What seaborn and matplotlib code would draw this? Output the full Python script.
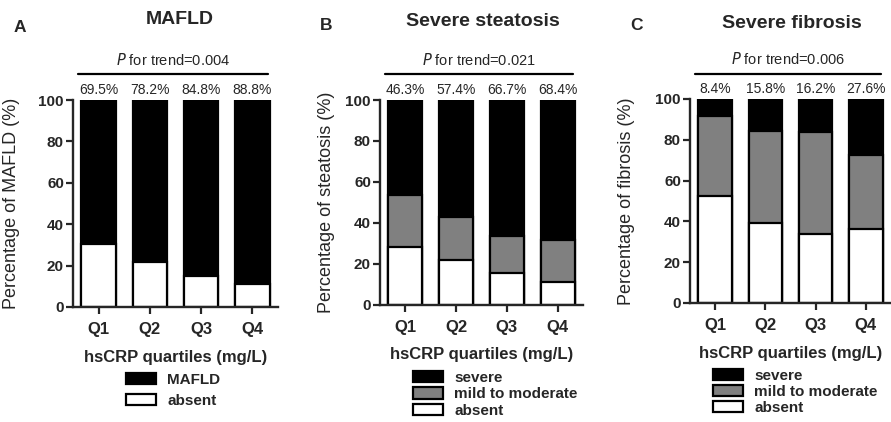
import numpy as np
import pandas as pd
import seaborn as sns
import matplotlib
matplotlib.use("Agg")
import matplotlib.pyplot as plt
from matplotlib.patches import Patch

# ---------------- data ----------------
quartiles = ["Q1", "Q2", "Q3", "Q4"]

mafld_pct = [69.5, 78.2, 84.8, 88.8]
mafld_absent = [30.5, 21.8, 15.2, 11.2]

steat_severe = [46.3, 57.4, 66.7, 68.4]
steat_mild = [25.5, 20.8, 18.1, 20.4]
steat_absent = [28.2, 21.8, 15.2, 11.2]

fib_severe = [8.4, 15.8, 16.2, 27.6]
fib_mild = [39.3, 44.9, 49.8, 35.9]
fib_absent = [52.3, 39.3, 34.0, 36.5]

titles = ["MAFLD", "Severe steatosis", "Severe fibrosis"]
letters = ["A", "B", "C"]
ylabels = ["Percentage of MAFLD (%)", "Percentage of steatosis (%)",
           "Percentage of fibrosis (%)"]
p_trend = ["0.004", "0.021", "0.006"]
xlabel = "hsCRP quartiles (mg/L)"
yticks = [0, 20, 40, 60, 80, 100]

BLACK = "#000000"
GRAY = "#808080"
WHITE = "#ffffff"

sns.set_style("ticks")
plt.rcParams["font.family"] = ["Liberation Sans", "DejaVu Sans"]

W, H = 891, 422
fig = plt.figure(figsize=(W / 100, H / 100), dpi=100)


def px_axes(l, r, b, t):
    return fig.add_axes([l / W, 1 - b / H, (r - l) / W, (b - t) / H])


ax_pos = [(73, 278, 307, 100), (380, 583, 304.5, 100), (690, 891, 303, 99)]
ylabel_x = [-0.2585, -0.2217, -0.2736]
title_pos = [(180, 20), (483, 22), (792, 23)]
letter_pos = [(14, 27), (320, 25), (630, 25)]
legend_pos = [(126, 373), (413, 371), (713, 369)]
legend_spacing = [0.45, 0.15, 0.12]

panels = [
    [(np.add(mafld_absent, mafld_pct), BLACK, "MAFLD"),
     (np.array(mafld_absent), WHITE, "absent")],
    [(np.add(np.add(steat_absent, steat_mild), steat_severe), BLACK, "severe"),
     (np.add(steat_absent, steat_mild), GRAY, "mild to moderate"),
     (np.array(steat_absent), WHITE, "absent")],
    [(np.add(np.add(fib_absent, fib_mild), fib_severe), BLACK, "severe"),
     (np.add(fib_absent, fib_mild), GRAY, "mild to moderate"),
     (np.array(fib_absent), WHITE, "absent")],
]
top_pcts = [mafld_pct, steat_severe, fib_severe]

for i in range(3):
    ax = px_axes(*ax_pos[i])
    for heights, col, lab in panels[i]:
        sns.barplot(x=quartiles, y=heights, color=col, saturation=1,
                    edgecolor="black", linewidth=1.6, width=0.67,
                    errorbar=None, ax=ax)
    ax.set_xlim(-0.5, 3.5)
    ax.set_ylim(0, 100)
    ax.set_yticks(yticks)
    sns.despine(ax=ax)
    for s in ["left", "bottom"]:
        ax.spines[s].set_linewidth(1.7)
    ax.tick_params(axis="both", width=1.6, length=5, direction="out")
    ax.tick_params(axis="y", labelsize=11, pad=1.5)
    ax.tick_params(axis="x", labelsize=12, pad=6)
    for t in ax.get_xticklabels() + ax.get_yticklabels():
        t.set_fontweight("bold")
    ax.set_ylabel(ylabels[i], fontsize=13)
    ax.yaxis.set_label_coords(ylabel_x[i], 0.5)
    ax.set_xlabel(xlabel, fontsize=12, fontweight="bold", labelpad=9)

    # percentages above bars
    for j, v in enumerate(top_pcts[i]):
        ax.text(j, 101.5, f"{v}%", ha="center", va="bottom", fontsize=10,
                clip_on=False)
    # trend line & text
    ax.plot([-0.4, 3.3], [112.5, 112.5], color="black", lw=1.6,
            clip_on=False)
    ax.text(1.45, 115.5, r"$\it{P}$ for trend=" + p_trend[i], ha="center",
            va="bottom", fontsize=10.5, clip_on=False)

    fig.text(title_pos[i][0] / W, 1 - title_pos[i][1] / H, titles[i],
             ha="center", va="center", fontsize=14, fontweight="bold")
    fig.text(letter_pos[i][0] / W, 1 - letter_pos[i][1] / H, letters[i],
             ha="left", va="center", fontsize=12.5, fontweight="bold")

    handles = [Patch(facecolor=c, edgecolor="black", linewidth=1.6, label=l)
               for _, c, l in panels[i]]
    fig.legend(handles=handles, loc="upper left",
               bbox_to_anchor=(legend_pos[i][0] / W, 1 - legend_pos[i][1] / H),
               frameon=False, handlelength=1.95, handleheight=0.75,
               handletextpad=0.75, labelspacing=legend_spacing[i],
               borderpad=0, borderaxespad=0,
               prop={"weight": "bold", "size": 11})

fig.savefig("out.png", dpi=100)
